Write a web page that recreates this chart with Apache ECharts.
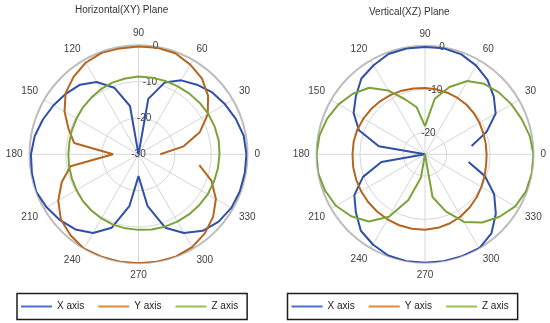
<!DOCTYPE html>
<html>
<head>
<meta charset="utf-8">
<script src="https://cdn.jsdelivr.net/npm/echarts@6/dist/echarts.min.js"></script>
<style>
html,body{margin:0;padding:0;background:#fff;}
#chart{width:550px;height:323px;}
</style>
</head>
<body>
<div id="chart"></div>
<script>
// ---- data ----
var angles = [0,10,20,30,40,50,60,70,80,90,100,110,120,130,140,150,160,170,180,190,200,210,220,230,240,250,260,270,280,290,300,310,320,330,340,350];
var angleTicks = [0,30,60,90,120,150,180,210,240,270,300,330];
var seriesNames = ['X axis','Y axis','Z axis'];

// Horizontal (XY) plane, dB
var xyX = [-0.3,-0.6,-1.5,-2.5,-3.5,-5,-6.5,-9,-14.5,-30,-16.5,-10.5,-7,-5,-4,-3,-2,-1,-0.4,-0.2,0,-0.8,-1.8,-3,-5,-8.5,-15.5,-24,-15.5,-8.5,-5,-2.5,-1.2,-0.5,-0.3,-0.3];
var xyY = [-24,-17.4,-12,-8,-5,-2.8,-1.5,-0.4,-0.2,-0.3,-0.4,-0.3,-0.9,-2.2,-3.8,-6.5,-9.5,-12,-23,-11,-7.5,-4.5,-2.1,-0.9,0,0,0,0,0,0,-0.5,-1.6,-3.2,-5.4,-8.6,-13];
var xyZ = [-7.7,-7.6,-7.7,-7.8,-8,-8.2,-8.4,-8.5,-8.6,-8.6,-8.8,-9,-9.3,-9.7,-10,-10.3,-10.5,-10.7,-10.7,-10.6,-10.5,-10.3,-10,-9.8,-9.6,-9.4,-9.3,-9.2,-9,-8.8,-8.6,-8.4,-8.2,-8,-7.9,-7.8];

// Vertical (XZ) plane, dB (null = no value)
var xzX = [null,-14.1,-9.9,-6.2,-4.3,-2.6,-1.4,-0.5,-0.2,-0.25,-0.25,-0.4,-1.3,-2.2,-4.2,-6,-8.8,-14.2,-25,-14.8,-9.8,-6.2,-4.2,-2,-1,-0.2,0,0,0,0,0,-1.2,-3.7,-6.6,-10.3,-14.8];
var xzY = [-10.8,-10.8,-10.7,-10.5,-10.3,-10.1,-10,-9.9,-9.8,-9.7,-9.6,-9.4,-9.2,-9,-8.8,-8.6,-8.4,-8.3,-8.3,-8.2,-8.1,-8,-7.9,-7.8,-7.7,-7.6,-7.6,-7.6,-7.8,-8.1,-8.5,-9,-9.5,-10,-10.4,-10.7];
var xzZ = [0,-0.5,-1.3,-2,-2.8,-3.8,-5.5,-8.5,-12,-18.5,-14,-11.5,-8,-5,-3.3,-2,-1,-0.3,0,0,-0.5,-1.3,-2.8,-4.8,-8.4,-13.8,-19.5,-25,-15,-11,-7,-4.5,-2.6,-1,-0.2,0];

var xyTicks = [-30,-20,-10,0];
var xzTicks = [-20,-10,0];
var titles = ['Horizontal(XY) Plane','Vertical(XZ) Plane'];

// ---- styling ----
var lineColors = ['#2f4fa8','#b5651f','#7ca33a'];
var legendColors = ['#4a6fd0','#e0893a','#9dbf55'];
var FONT = 'Liberation Sans, Arial, sans-serif';
var TXT = '#404040';

function build(vals, closed) {
  var d = angles.map(function (a, i) { return [vals[i] === null ? '-' : vals[i], a]; });
  if (closed) d.push([vals[0], 360]);
  return d;
}

var polars = [
  {center: [138.5, 154.3], radius: 109},
  {center: [138.5, 154.3], radius: 109},
  {center: [425, 154.3], radius: 108.5},
  {center: [425, 154.3], radius: 108.5}
];

function mainAngle(pi) {
  return {
    polarIndex: pi, type: 'value', min: 0, max: 360, interval: 30,
    startAngle: 0, clockwise: false,
    axisLine: {show: true, lineStyle: {color: '#bdbdbd', width: 2}},
    axisTick: {show: false},
    splitLine: {show: true, lineStyle: {color: '#d6d6d6', width: 1}},
    axisLabel: {show: true, fontSize: 10, color: TXT, fontFamily: FONT, margin: 7,
      formatter: function (v) { return (v === 360 || angleTicks.indexOf(v) < 0) ? '' : String(v); }}
  };
}
function overlayAngle(pi) {
  return {polarIndex: pi, type: 'value', min: 0, max: 360, startAngle: 81, clockwise: false, show: false};
}

var option = {
  animation: false,
  backgroundColor: '#fff',
  title: [
    {text: titles[0], left: 75, top: 5, padding: 0, textStyle: {fontSize: 10, fontWeight: 'normal', color: '#333', fontFamily: FONT}},
    {text: titles[1], left: 369, top: 7, padding: 0, textStyle: {fontSize: 10, fontWeight: 'normal', color: '#333', fontFamily: FONT}}
  ],
  legend: [0, 1].map(function (k) {
    return {
      left: k === 0 ? 17 : 287.5, top: 293.5, orient: 'horizontal',
      padding: [7, 9, 7, 4], itemWidth: 31, itemHeight: 2, itemGap: 14,
      borderColor: '#1e1e1e', borderWidth: 1.5, borderRadius: 0,
      textStyle: {fontSize: 10, color: '#222', fontFamily: FONT, lineHeight: 12},
      data: seriesNames.map(function (n, i) {
        return {name: n, icon: 'rect', itemStyle: {color: legendColors[i]}};
      })
    };
  }),
  polar: polars,
  angleAxis: [mainAngle(0), overlayAngle(1), mainAngle(2), overlayAngle(3)],
  radiusAxis: [
    {polarIndex: 0, type: 'value', min: -30, max: 0, interval: 10,
      axisLine: {show: false}, axisTick: {show: false}, axisLabel: {show: false},
      splitLine: {show: true, lineStyle: {color: '#d6d6d6', width: 1}}},
    {polarIndex: 1, type: 'value', min: -30, max: 0, interval: 10,
      axisLine: {show: false}, axisTick: {show: false}, splitLine: {show: false},
      axisLabel: {show: true, fontSize: 10, color: TXT, fontFamily: FONT, margin: 0, align: 'center', verticalAlign: 'middle',
        formatter: function (v) { return xyTicks.indexOf(v) >= 0 ? String(v) : ''; }}},
    {polarIndex: 2, type: 'value', min: -25, max: 0, interval: 5,
      axisLine: {show: false}, axisTick: {show: false}, axisLabel: {show: false},
      splitLine: {show: true, lineStyle: {color: ['rgba(0,0,0,0)', '#d6d6d6'], width: 1}}},
    {polarIndex: 3, type: 'value', min: -25, max: 0, interval: 5,
      axisLine: {show: false}, axisTick: {show: false}, splitLine: {show: false},
      axisLabel: {show: true, fontSize: 10, color: TXT, fontFamily: FONT, margin: 0, align: 'center', verticalAlign: 'middle',
        formatter: function (v) { return xzTicks.indexOf(v) >= 0 ? String(v) : ''; }}}
  ],
  series: [
    {name: seriesNames[0], vals: xyX, closed: true, pi: 0, c: 0},
    {name: seriesNames[1], vals: xyY, closed: false, pi: 0, c: 1},
    {name: seriesNames[2], vals: xyZ, closed: true, pi: 0, c: 2},
    {name: seriesNames[0], vals: xzX, closed: false, pi: 2, c: 0},
    {name: seriesNames[1], vals: xzY, closed: true, pi: 2, c: 1},
    {name: seriesNames[2], vals: xzZ, closed: true, pi: 2, c: 2}
  ].map(function (s) {
    return {
      name: s.name, type: 'line', coordinateSystem: 'polar', polarIndex: s.pi,
      symbol: 'none', showSymbol: false, connectNulls: false, smooth: false,
      lineStyle: {width: 2, color: lineColors[s.c]}, itemStyle: {color: lineColors[s.c]},
      data: build(s.vals, s.closed), z: 3
    };
  })
};

var chart = echarts.init(document.getElementById('chart'), null, {renderer: 'canvas'});
chart.setOption(option);
</script>
</body>
</html>
